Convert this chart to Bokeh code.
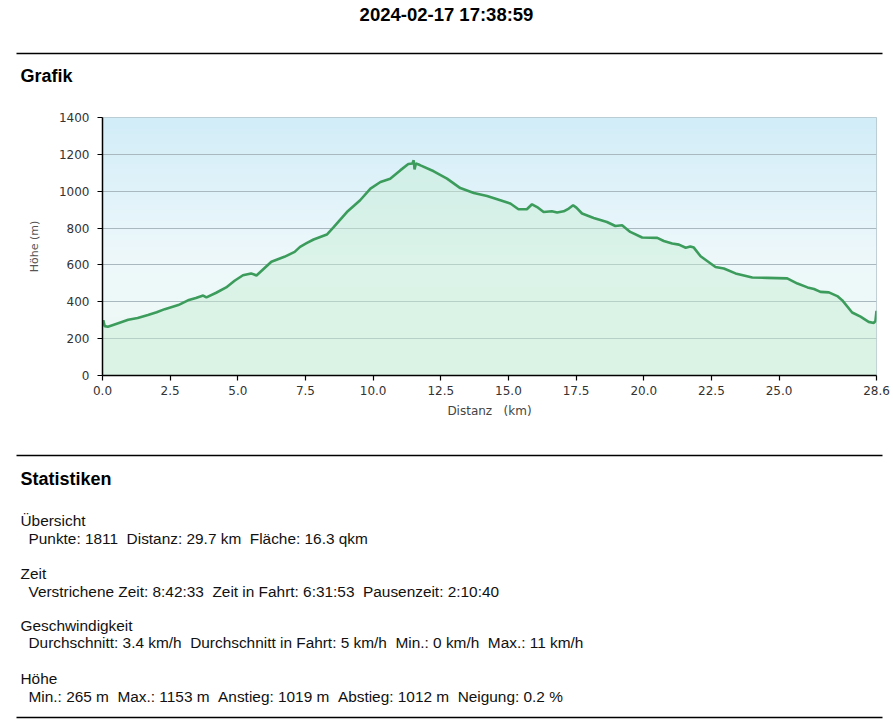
import numpy as np
from bokeh.plotting import figure
from bokeh.layouts import column
from bokeh.models import Range1d, FixedTicker, NumeralTickFormatter
from bokeh.core.properties import value
from bokeh.embed import file_html
from bokeh.resources import INLINE

# ---------------- data ----------------
title_text = "2024-02-17 17:38:59"
section_graph = "Grafik"
section_stats = "Statistiken"

km = [0.00, 0.03, 0.08, 0.20, 0.50, 0.95, 1.30, 1.68, 2.00, 2.30, 2.80, 3.16,
      3.45, 3.72, 3.84, 4.20, 4.57, 4.88, 5.19, 5.49, 5.69, 5.95, 6.24, 6.72,
      7.10, 7.30, 7.54, 7.80, 8.29, 8.55, 9.03, 9.52, 9.90, 10.27, 10.63, 11.00,
      11.30, 11.45, 11.50, 11.53, 11.58, 11.68, 11.75, 12.24, 12.73, 13.22, 13.72,
      14.21, 14.70, 15.07, 15.37, 15.68, 15.87, 16.06, 16.30, 16.60, 16.80, 17.04,
      17.23, 17.39, 17.51, 17.72, 18.15, 18.64, 18.95, 19.20, 19.50, 19.94, 20.50,
      20.74, 21.05, 21.30, 21.55, 21.72, 21.85, 22.10, 22.65, 22.96, 23.39, 24.01,
      24.56, 25.30, 25.68, 26.05, 26.29, 26.53, 26.84, 27.15, 27.33, 27.70, 28.01,
      28.31, 28.50, 28.56, 28.60]
elev = [272, 300, 268, 265, 280, 302, 312, 328, 343, 360, 382, 408,
        420, 434, 424, 449, 478, 514, 544, 554, 543, 578, 617, 644,
        671, 698, 718, 738, 765, 806, 887, 951, 1014, 1050, 1068, 1113,
        1148, 1150, 1168, 1118, 1150, 1145, 1140, 1108, 1068, 1017, 990,
        974, 951, 933, 902, 902, 929, 914, 887, 891, 884, 891,
        906, 924, 911, 879, 855, 833, 811, 815, 779, 749, 747,
        730, 716, 710, 693, 700, 694, 647, 589, 581, 554, 532,
        530, 527, 499, 478, 469, 454, 451, 431, 409, 342, 319,
        291, 285, 295, 351]

x_ticks = [0, 2.5, 5, 7.5, 10, 12.5, 15, 17.5, 20, 22.5, 25, 28.6]
y_ticks = [0, 200, 400, 600, 800, 1000, 1200, 1400]
x_max = 28.6
y_max = 1400
x_label = "Distanz \u00a0 (km)"
y_label = "Höhe (m)"

stat_headers = ["Übersicht", "Zeit", "Geschwindigkeit", "Höhe"]
stat_lines = [
    "Punkte: 1811 \u00a0Distanz: 29.7 km \u00a0Fläche: 16.3 qkm",
    "Verstrichene Zeit: 8:42:33 \u00a0Zeit in Fahrt: 6:31:53 \u00a0Pausenzeit: 2:10:40",
    "Durchschnitt: 3.4 km/h \u00a0Durchschnitt in Fahrt: 5 km/h \u00a0Min.: 0 km/h \u00a0Max.: 11 km/h",
    "Min.: 265 m \u00a0Max.: 1153 m \u00a0Anstieg: 1019 m \u00a0Abstieg: 1012 m \u00a0Neigung: 0.2 %",
]

# ---------------- styling ----------------
W = 885
SANS = value("Liberation Sans")
TICKF = "DejaVu Sans"


def no_align(f):
    try:
        f.frame_align = False
    except Exception:
        pass


def blank(h):
    f = figure(width=W, height=h, x_range=Range1d(0, W), y_range=Range1d(h, 0),
               output_backend="svg", toolbar_location=None, min_border=0,
               x_axis_location=None, y_axis_location=None,
               background_fill_color="white", border_fill_color="white")
    f.grid.visible = False
    f.outline_line_color = None
    no_align(f)
    return f


# header (108 px tall)
hdr = blank(108)
hdr.text(x=[446], y=[14], text=[title_text], text_align="center", text_baseline="middle",
         text_font=SANS, text_font_style="bold", text_font_size="18.5px", text_color="#000000")
hdr.segment(x0=[16], y0=[53], x1=[882], y1=[53], line_color="#000000", line_width=1.3)
hdr.text(x=[20], y=[75], text=[section_graph], text_align="left", text_baseline="middle",
         text_font=SANS, text_font_style="bold", text_font_size="18px", text_color="#000000")

# chart
p = figure(width=891, height=337, x_range=Range1d(0, x_max), y_range=Range1d(0, y_max),
           output_backend="svg", toolbar_location=None,
           min_border_left=102, min_border_right=15, min_border_top=9, min_border_bottom=70,
           background_fill_color="white", border_fill_color="white")
no_align(p)

# vertical gradient background (blue at top -> pale green at bottom)
n = 256
t = np.linspace(0, 1, n)  # 0 = bottom, 1 = top
stops = [0.0, 0.45, 1.0]
rs = [0xed, 0xee, 0xd2]
gs = [0xf9, 0xf8, 0xed]
bs = [0xf3, 0xfb, 0xf8]
img = np.empty((n, 2), dtype=np.uint32)
view = img.view(dtype=np.uint8).reshape((n, 2, 4))
for c, arr in enumerate([rs, gs, bs]):
    view[:, :, c] = np.interp(t, stops, arr)[:, None].astype(np.uint8)
view[:, :, 3] = 255
p.image_rgba(image=[img], x=0, y=0, dw=x_max, dh=y_max, level="image")

p.varea(x=km, y1=0, y2=elev, fill_color="#c6eed3", fill_alpha=0.45)
p.line(km, elev, line_color="#3c9c5c", line_width=2.6)

p.xgrid.visible = False
p.ygrid.ticker = FixedTicker(ticks=y_ticks)
p.ygrid.grid_line_color = "#a9b7be"
p.ygrid.grid_line_width = 1.2
p.outline_line_color = "#b3c3ca"
p.outline_line_width = 1

p.xaxis.ticker = FixedTicker(ticks=x_ticks)
p.xaxis.formatter = NumeralTickFormatter(format="0.0")
p.yaxis.ticker = FixedTicker(ticks=y_ticks)

for ax in (p.xaxis[0], p.yaxis[0]):
    ax.axis_line_color = "#000000"
    ax.axis_line_width = 1.5
    ax.major_tick_line_color = "#000000"
    ax.major_tick_line_width = 1.2
    ax.major_tick_out = 5
    ax.major_tick_in = 0
    ax.minor_tick_line_color = None
    ax.major_label_text_font = TICKF
    ax.major_label_text_font_size = "12px"
    ax.major_label_text_color = "#333333"
    ax.axis_label_text_font = TICKF
    ax.axis_label_text_font_style = "normal"
    ax.axis_label_text_color = "#444444"

p.xaxis.axis_label = x_label
p.xaxis.axis_label_text_font_size = "12px"
p.xaxis.axis_label_standoff = 6
p.yaxis.axis_label = y_label
p.yaxis.axis_label_text_font_size = "11px"
p.yaxis.axis_label_text_color = "#555555"
p.yaxis.axis_label_standoff = 15
p.yaxis.major_label_standoff = 8

# statistics (274 px tall)
st = blank(274)
st.segment(x0=[16], y0=[10], x1=[882], y1=[10], line_color="#000000", line_width=1.3)
st.text(x=[20], y=[33], text=[section_stats], text_align="left", text_baseline="middle",
        text_font=SANS, text_font_style="bold", text_font_size="18px", text_color="#000000")
hy = [75, 128, 180, 233]
ly = [93, 146, 197, 251]
st.text(x=[20] * 4, y=hy, text=stat_headers, text_align="left", text_baseline="middle",
        text_font=SANS, text_font_size="15.4px", text_color="#111111")
st.text(x=[28] * 4, y=ly, text=stat_lines, text_align="left", text_baseline="middle",
        text_font=SANS, text_font_size="15.4px", text_color="#111111")
st.segment(x0=[16], y0=[272], x1=[882], y1=[272], line_color="#000000", line_width=1.3)

layout = column(hdr, p, st, spacing=0)
open("out.html", "w").write(file_html(layout, INLINE))
